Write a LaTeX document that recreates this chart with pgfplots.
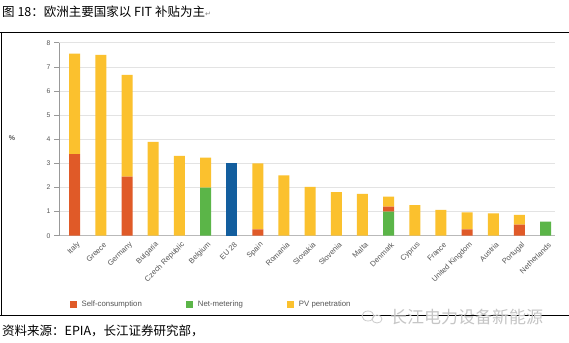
\documentclass[border=0pt]{standalone}
\usepackage{fontspec}
\setmainfont{Liberation Sans}
\newfontfamily\cjk{Noto Sans CJK SC}
\newfontfamily\dejavu{DejaVu Sans}
\usepackage{pgfplots}
\pgfplotsset{compat=1.18}
\usepackage{pgfplotstable}
\definecolor{cself}{HTML}{E05A28}
\definecolor{cnet}{HTML}{5BB548}
\definecolor{cpv}{HTML}{FBC12E}
\definecolor{ceu}{HTML}{135E9E}
\definecolor{ctxt}{HTML}{555555}
\pgfplotstableread{
x net self pv eu
0 0 3.38 4.17 0
1 0 0 7.50 0
2 0 2.45 4.22 0
3 0 0 3.89 0
4 0 0 3.31 0
5 1.99 0 1.25 0
6 0 0 0 3.03
7 0 0.26 2.74 0
8 0 0 2.50 0
9 0 0 2.02 0
10 0 0 1.81 0
11 0 0 1.73 0
12 1.00 0.20 0.42 0
13 0 0 1.27 0
14 0 0 1.07 0
15 0 0.26 0.71 0
16 0 0 0.93 0
17 0 0.46 0.40 0
18 0.58 0 0 0
}\data
\begin{document}
\begin{tikzpicture}[x=1pt,y=1pt]
\useasboundingbox (0pt,0pt) rectangle (569pt,342pt);
\fill[white] (0pt,0pt) rectangle (569pt,342pt);
\node[anchor=west, inner sep=0pt, font=\cjk\fontsize{12.5}{14}\selectfont] at (2pt,330pt) {图 18：欧洲主要国家以 FIT 补贴为主{\dejavu\fontsize{7}{8}\selectfont\color{gray}↵}};
\draw[line width=1.1pt] (0pt,309.3pt) -- (569pt,309.3pt);
\draw[line width=0.6pt] (1.5pt,309.3pt) -- (1.5pt,26.7pt);
\draw[line width=0.8pt] (0pt,26.7pt) -- (569pt,26.7pt);
\node[anchor=west, inner sep=0pt, font=\cjk\fontsize{12.5}{14}\selectfont] at (2pt,11.3pt) {资料来源：EPIA，长江证券研究部，};
\node[font=\fontsize{7}{8}\selectfont\bfseries, text=ctxt] at (12pt,204pt) {\%};
\begin{axis}[
  at={(59pt,106.3pt)}, anchor=south west,
  scale only axis, width=496pt, height=193pt,
  ybar stacked, bar width=11pt,
  xmin=-0.6, xmax=18.36, ymin=0, ymax=8,
  xtick={0,...,18},
  xticklabels={Italy,Greece,Germany,Bulgaria,Czech Republic,Belgium,EU 28,Spain,Romania,Slovakia,Slovenia,Malta,Denmark,Cyprus,France,United Kingdom,Austria,Portugal,Netherlands},
  x tick label style={rotate=45, anchor=east, inner sep=1pt, font=\fontsize{7.5}{8}\selectfont, text=ctxt, yshift=-5pt, xshift=2pt},
  ytick={0,...,8},
  y tick label style={font=\fontsize{6.8}{8}\selectfont, text=ctxt},
  /pgf/number format/assume math mode=true,
  axis x line*=bottom, axis y line*=left,
  x axis line style={draw=gray!55, line width=1.3pt},
  y axis line style={draw=gray!80, line width=0.6pt},
  x tick style={draw=none},
  y tick style={draw=gray!80, line width=0.6pt},
  tick align=outside, major tick length=5pt,
  ymajorgrids, grid style={draw=gray!22, line width=0.6pt},
  legend style={at={(0.015,-0.354)}, anchor=west, draw=none, fill=none,
    legend columns=3, font=\fontsize{7.8}{8}\selectfont, text=ctxt,
    /tikz/every odd column/.append style={column sep=3pt},
    /tikz/every even column/.append style={column sep=42pt}},
  legend image code/.code={\fill[#1] (0pt,-3.5pt) rectangle (7pt,3.5pt);},
]
\addlegendimage{fill=cself, draw=none}
\addlegendimage{fill=cnet, draw=none}
\addlegendimage{fill=cpv, draw=none}
\addplot[fill=cnet, draw=none] table[x=x, y=net] {\data};
\addplot[fill=cself, draw=none] table[x=x, y=self] {\data};
\addplot[fill=cpv, draw=none] table[x=x, y=pv] {\data};
\addplot[fill=ceu, draw=none] table[x=x, y=eu] {\data};
\legend{Self-consumption, Net-metering, PV penetration}
\end{axis}
\draw[gray!40, line width=0.8pt] (368pt,26pt) ellipse (6pt and 5pt);
\draw[gray!40, line width=0.8pt] (377pt,23pt) ellipse (5pt and 4pt);
\node[anchor=west, inner sep=0pt, text=gray!45, font=\cjk\fontsize{17}{19}\selectfont] at (390pt,25pt) {长江电力设备新能源};
\end{tikzpicture}
\end{document}
